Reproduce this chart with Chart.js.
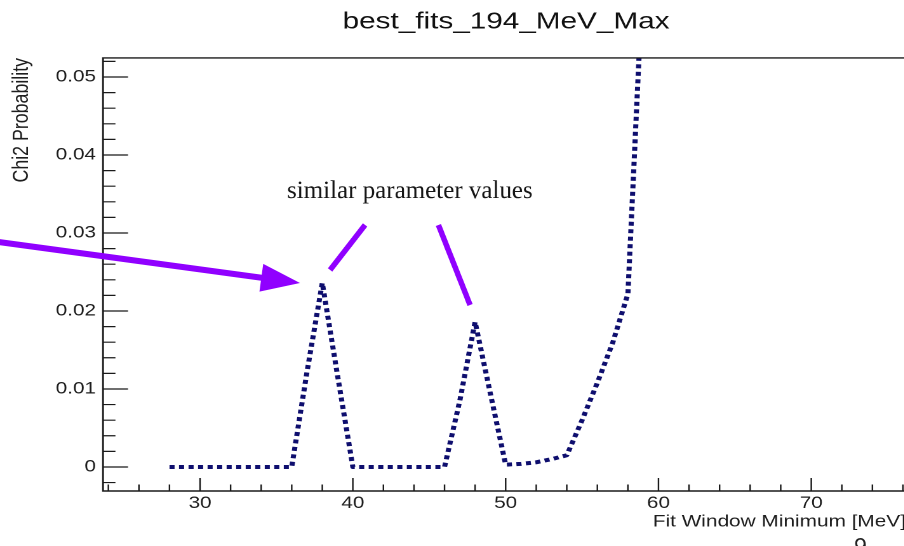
<!DOCTYPE html>
<html>
<head>
<meta charset="utf-8">
<script src="https://cdn.jsdelivr.net/npm/chart.js@4.4.1/dist/chart.umd.min.js"></script>
<style>
  html, body { margin: 0; padding: 0; background: #fff; overflow: hidden; width: 904px; height: 546px; }
  #wrap { position: absolute; left: 0; top: 0; transform-origin: 0 0; }
  canvas { display: block; }
</style>
</head>
<body>
<div id="wrap"><canvas id="c" width="797" height="546"></canvas></div>
<script>
// Fit window minimum scan (MeV) and the resulting chi2 probability
const fitWindowMin = [28, 29, 30, 31, 32, 33, 34, 35, 36, 37, 38, 39, 40, 41, 42, 43,
                      44, 45, 46, 47, 48, 49, 50, 51, 52, 53, 54, 55, 56, 57, 58, 59];
const chi2Prob = [0, 0, 0, 0, 0, 0, 0, 0, 0, 0.0122, 0.0236, 0.0117, 0, 0, 0, 0,
                  0, 0, 0, 0.0085, 0.0186, 0.0094, 0.0003, 0.0004, 0.0006, 0.0010, 0.0015, 0.0060, 0.0108, 0.0159, 0.0222, 0.064];

const xTickLabels = [30, 40, 50, 60, 70];
const yTickLabels = [0, 0.01, 0.02, 0.03, 0.04, 0.05];

const titleText = 'best_fits_194_MeV_Max';
const xTitle = 'Fit Window Minimum [MeV]';
const yTitle = 'Chi2 Probability';
const noteText = 'similar parameter values';
const pageMark = '9';

// the plot is shown stretched horizontally, like the exported canvas
const STRETCH = 1.27;
document.getElementById('wrap').style.transform = 'scaleX(' + STRETCH + ')';

const FONT = '"Liberation Sans", Arial, sans-serif';
const PURPLE = '#9000ff';

// annotation anchors, in data units (MeV, probability)
const arrowFrom = [15.5, 0.0292];
const arrowTo = [36.54, 0.02359];
const pointerA = [[40.80, 0.03103], [38.51, 0.02526]];
const pointerB = [[45.60, 0.03103], [47.67, 0.02077]];
const noteAt = [35.69, 0.03449];

// ROOT-style frame with inward ticks
const frameTicks = {
  id: 'frameTicks',
  afterDatasetsDraw(chart) {
    const { ctx, chartArea: a, scales: { x, y } } = chart;
    ctx.save();
    ctx.strokeStyle = '#1a1a1a';
    ctx.lineWidth = 1.4;
    ctx.beginPath();
    ctx.moveTo(a.right, a.top);
    ctx.lineTo(a.left, a.top);
    ctx.lineTo(a.left, a.bottom);
    ctx.lineTo(a.right, a.bottom);
    ctx.lineTo(a.right, a.top);
    ctx.stroke();

    ctx.lineWidth = 1.2;
    ctx.beginPath();
    for (let i = -5; i <= 30; i++) {
      const v = i * 0.002;
      if (v < y.min || v > y.max) continue;
      const py = y.getPixelForValue(v);
      const len = (i % 5 === 0) ? 19.7 : 9.8;
      ctx.moveTo(a.left, py);
      ctx.lineTo(a.left + len, py);
    }
    for (let m = 20; m <= 80; m += 2) {
      if (m < x.min || m > x.max) continue;
      const px = x.getPixelForValue(m);
      const len = (m % 10 === 0) ? 13 : 6.5;
      ctx.moveTo(px, a.bottom);
      ctx.lineTo(px, a.bottom - len);
    }
    ctx.stroke();
    ctx.restore();
  }
};

// arrow, pointer strokes and note text, drawn unstretched
const notes = {
  id: 'notes',
  afterDraw(chart) {
    const { ctx, scales: { x, y } } = chart;
    const P = ([vx, vy]) => [x.getPixelForValue(vx) * STRETCH, y.getPixelForValue(vy)];
    ctx.save();
    ctx.scale(1 / STRETCH, 1);
    ctx.strokeStyle = PURPLE;
    ctx.fillStyle = PURPLE;
    ctx.lineCap = 'butt';

    const t = P(arrowFrom), h = P(arrowTo);
    const ang = Math.atan2(h[1] - t[1], h[0] - t[0]);
    const c = Math.cos(ang), s = Math.sin(ang);
    const headLen = 39, headHalf = 14;
    const bx = h[0] - headLen * c, by = h[1] - headLen * s;
    ctx.lineWidth = 6;
    ctx.beginPath();
    ctx.moveTo(t[0], t[1]);
    ctx.lineTo(bx + 4 * c, by + 4 * s);
    ctx.stroke();
    ctx.beginPath();
    ctx.moveTo(h[0], h[1]);
    ctx.lineTo(bx - headHalf * s, by + headHalf * c);
    ctx.lineTo(bx + headHalf * s, by - headHalf * c);
    ctx.closePath();
    ctx.fill();

    ctx.lineWidth = 5.5;
    [pointerA, pointerB].forEach(seg => {
      const p0 = P(seg[0]), p1 = P(seg[1]);
      ctx.beginPath();
      ctx.moveTo(p0[0], p0[1]);
      ctx.lineTo(p1[0], p1[1]);
      ctx.stroke();
    });

    const n = P(noteAt);
    ctx.fillStyle = '#161616';
    ctx.font = '25px "Liberation Serif", "Times New Roman", serif';
    ctx.textAlign = 'left';
    ctx.textBaseline = 'alphabetic';
    ctx.fillText(noteText, n[0], n[1]);

    ctx.fillStyle = '#222';
    ctx.font = '23px ' + FONT;
    ctx.textAlign = 'center';
    ctx.fillText(pageMark, 860.5, 554);
    ctx.restore();
  }
};

const whiteBg = {
  id: 'whiteBg',
  beforeDraw(chart) {
    const { ctx, width, height } = chart;
    ctx.save();
    ctx.fillStyle = '#fff';
    ctx.fillRect(0, 0, width, height);
    ctx.restore();
  }
};

new Chart(document.getElementById('c'), {
  type: 'line',
  data: {
    datasets: [{
      data: fitWindowMin.map((m, i) => ({ x: m, y: chi2Prob[i] })),
      borderColor: '#0e0e6e',
      borderWidth: 4,
      borderDash: [4, 3.5],
      borderCapStyle: 'butt',
      borderJoinStyle: 'round',
      tension: 0,
      pointRadius: 0,
      fill: false,
      clip: 0
    }]
  },
  options: {
    responsive: false,
    animation: false,
    devicePixelRatio: 2,
    layout: { padding: 0 },
    plugins: {
      legend: { display: false },
      tooltip: { enabled: false },
      title: {
        display: true,
        text: titleText,
        color: '#111',
        font: { family: FONT, size: 23.4, weight: 'normal', lineHeight: 1.2 },
        padding: { top: 8, bottom: 21.9 }
      }
    },
    scales: {
      x: {
        type: 'linear',
        min: 23.65,
        max: 76.2,
        afterBuildTicks: s => { s.ticks = xTickLabels.map(v => ({ value: v })); },
        afterFit: s => { s.height = 55; },
        grid: { display: false, drawTicks: false },
        border: { display: false },
        ticks: {
          color: '#1e1e1e',
          padding: 2.5,
          maxRotation: 0,
          autoSkip: false,
          font: { family: FONT, size: 16.3 },
          callback: v => String(v)
        },
        title: {
          display: true,
          text: xTitle,
          align: 'end',
          color: '#1e1e1e',
          font: { family: FONT, size: 16.4, lineHeight: 1.2 },
          padding: { top: 0, bottom: 14 }
        }
      },
      y: {
        type: 'linear',
        min: -0.00308,
        max: 0.05244,
        afterBuildTicks: s => { s.ticks = yTickLabels.map(v => ({ value: v })); },
        afterFit: s => { s.width = 81.1; },
        grid: { display: false, drawTicks: false },
        border: { display: false },
        ticks: {
          color: '#1e1e1e',
          padding: 5.5,
          autoSkip: false,
          font: { family: FONT, size: 16.3 },
          callback: v => (v === 0 ? '0' : v.toFixed(2))
        },
        title: {
          display: true,
          text: yTitle,
          align: 'end',
          color: '#1e1e1e',
          font: { family: FONT, size: 17.8, lineHeight: 1.2 },
          padding: { top: 6.5, bottom: 0 }
        }
      },
      // empty right-hand margin of the pad, keeps the title centred on the whole pad
      yPad: {
        type: 'linear',
        position: 'right',
        display: true,
        afterFit: s => { s.width = 83.6; },
        grid: { display: false, drawTicks: false },
        border: { display: false },
        ticks: { display: false }
      }
    }
  },
  plugins: [whiteBg, frameTicks, notes]
});
</script>
</body>
</html>
